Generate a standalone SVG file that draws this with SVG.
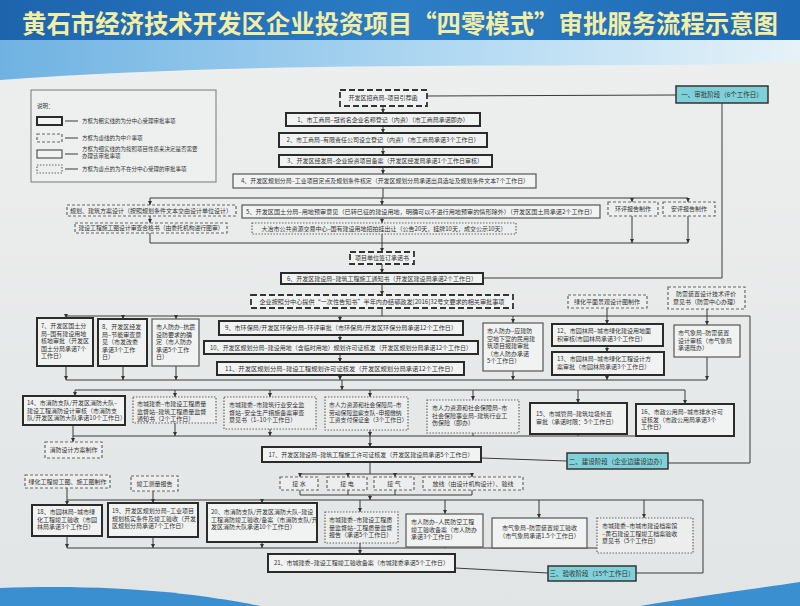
<svg xmlns="http://www.w3.org/2000/svg" width="800" height="606" viewBox="0 0 800 606">
<defs>
<linearGradient id="bg" x1="0" y1="0" x2="0" y2="1"><stop offset="0" stop-color="#eef0f0"/><stop offset="1" stop-color="#e2e5e5"/></linearGradient>
<linearGradient id="hd" x1="0" y1="0" x2="1" y2="0"><stop offset="0" stop-color="#1d64ad"/><stop offset="0.5" stop-color="#2b7cc4"/><stop offset="1" stop-color="#1f6ab4"/></linearGradient>
<linearGradient id="sw" x1="0" y1="0" x2="1" y2="0"><stop offset="0" stop-color="#6fb2e2"/><stop offset="0.6" stop-color="#b5dbf3"/><stop offset="1" stop-color="#e6f2f8"/></linearGradient>
<marker id="a" viewBox="0 0 6 6" refX="6" refY="3" markerWidth="4" markerHeight="4" orient="auto"><path d="M0,0L6,3L0,6z" fill="#333"/></marker>
<style>
.thick{fill:#f1f2f2;stroke:#2b2b2b;stroke-width:2}
.thin{fill:#f1f2f2;stroke:#555;stroke-width:1.2}
.dash{fill:#f1f2f2;stroke:#333;stroke-width:1.8;stroke-dasharray:6 3}
.mid{fill:#eceeee;stroke:#666;stroke-width:1.2;stroke-dasharray:3 2}
.dot{fill:#eceeee;stroke:#666;stroke-width:1.2;stroke-dasharray:1.5 1.5}
.stage{fill:#7fd0d8;stroke:#333;stroke-width:1.5}
text{font-family:"Noto Sans CJK SC","Noto Sans",sans-serif;font-size:6px;fill:#333}
.c{text-anchor:middle}
.l{fill:none;stroke:#3a3a3a;stroke-width:1}
.ar{fill:none;stroke:#3a3a3a;stroke-width:1;marker-end:url(#a)}
</style>
</defs>
<rect x="0" y="0" width="800" height="606" fill="url(#bg)"/>
<rect x="0" y="0" width="800" height="46" fill="url(#hd)"/>
<path d="M0,40 L800,40 L800,62 C600,70 300,58 0,80 Z" fill="url(#sw)"/>
<path d="M0,588 C120,584 200,594 260,606 L0,606 Z" fill="#3a8fd0"/>
<path d="M640,606 C700,596 760,588 800,582 L800,606 Z" fill="#3a8fd0"/>
<text x="400" y="33" text-anchor="middle" textLength="756" lengthAdjust="spacingAndGlyphs" style="font-size:25px;font-weight:bold;fill:#f3eea6">黄石市经济技术开发区企业投资项目“四零模式”审批服务流程示意图</text>

<g id="legend">
<rect x="31" y="90" width="185" height="92" fill="#eef0f0" stroke="#777" stroke-width="1"/>
<text x="37" y="108" style="font-size:5.5px">说明：</text>
<rect x="37" y="117" width="25" height="8" class="thick"/>
<line x1="65" y1="121" x2="78" y2="121" class="l"/>
<text x="82" y="123" style="font-size:5.5px">方框为粗实线的为分中心受理审批事项</text>
<rect x="37" y="134" width="25" height="8" class="mid"/>
<line x1="65" y1="138" x2="78" y2="138" class="l"/>
<text x="82" y="140" style="font-size:5.5px">方框为虚线的为中介事项</text>
<rect x="37" y="150" width="25" height="8" class="thin"/>
<line x1="65" y1="154" x2="78" y2="154" class="l"/>
<text x="82" y="151" style="font-size:5.5px">方框为细实线的为按照项目性质来决定是否需要</text>
<text x="82" y="158" style="font-size:5.5px">办理该审批事项</text>
<rect x="37" y="165" width="25" height="8" class="dot"/>
<line x1="65" y1="169" x2="78" y2="169" class="l"/>
<text x="82" y="171" style="font-size:5.5px">方框为虚点的为不在分中心受理的审批事项</text>
</g>

<g id="connectors">
<line x1="383" y1="106" x2="383" y2="113" class="ar"/>
<line x1="383" y1="126" x2="383" y2="133" class="ar"/>
<line x1="383" y1="147" x2="383" y2="155" class="ar"/>
<line x1="383" y1="167" x2="383" y2="174" class="ar"/>
<polyline points="427,96 676,95" class="l"/>
<polyline points="722,103 722,278 483,278" class="l"/>
<line x1="383" y1="188" x2="383" y2="198" class="l"/>
<line x1="150" y1="198" x2="688" y2="198" class="l"/>
<line x1="150" y1="198" x2="150" y2="205" class="ar"/>
<line x1="382" y1="198" x2="382" y2="205" class="ar"/>
<line x1="632" y1="198" x2="632" y2="202" class="ar"/>
<line x1="688" y1="198" x2="688" y2="202" class="ar"/>
<line x1="150" y1="216" x2="150" y2="223" class="ar"/>
<line x1="382" y1="218" x2="382" y2="223" class="ar"/>
<line x1="150" y1="233" x2="150" y2="243" class="l"/>
<line x1="382" y1="234" x2="382" y2="243" class="l"/>
<line x1="632" y1="216" x2="632" y2="243" class="ar"/>
<line x1="688" y1="216" x2="688" y2="243" class="ar"/>
<line x1="150" y1="243" x2="688" y2="243" class="l"/>
<line x1="382" y1="243" x2="382" y2="252" class="ar"/>
<line x1="382" y1="264" x2="382" y2="273" class="ar"/>
<line x1="382" y1="284" x2="382" y2="295" class="ar"/>
<line x1="382" y1="308" x2="382" y2="316" class="l"/>
<line x1="66" y1="316" x2="750" y2="316" class="l"/>
<line x1="66" y1="316" x2="66" y2="318" class="ar"/>
<line x1="123" y1="316" x2="123" y2="319" class="ar"/>
<line x1="176" y1="316" x2="176" y2="319" class="ar"/>
<line x1="340" y1="316" x2="340" y2="321" class="ar"/>
<line x1="513" y1="316" x2="513" y2="323" class="ar"/>
<line x1="607" y1="308" x2="607" y2="324" class="ar"/>
<line x1="707" y1="309" x2="707" y2="325" class="ar"/>
<line x1="340" y1="335" x2="340" y2="341" class="ar"/>
<line x1="340" y1="354" x2="340" y2="362" class="ar"/>
<line x1="607" y1="346" x2="607" y2="352" class="ar"/>
<polyline points="750,316 750,463 668,463" class="l"/>
<line x1="66" y1="366" x2="66" y2="380" class="ar"/>
<line x1="123" y1="366" x2="123" y2="380" class="ar"/>
<line x1="176" y1="366" x2="176" y2="380" class="ar"/>
<line x1="340" y1="375" x2="340" y2="380" class="ar"/>
<line x1="513" y1="371" x2="513" y2="380" class="ar"/>
<line x1="607" y1="375" x2="607" y2="380" class="ar"/>
<line x1="707" y1="357" x2="707" y2="380" class="ar"/>
<line x1="66" y1="380" x2="707" y2="380" class="l"/>
<line x1="342" y1="380" x2="342" y2="390" class="ar"/>
<line x1="75" y1="390" x2="685" y2="390" class="l"/>
<line x1="75" y1="390" x2="75" y2="396" class="ar"/>
<line x1="175" y1="390" x2="175" y2="397" class="ar"/>
<line x1="270" y1="390" x2="270" y2="397" class="ar"/>
<line x1="370" y1="390" x2="370" y2="397" class="ar"/>
<line x1="473" y1="390" x2="473" y2="400" class="ar"/>
<line x1="578" y1="390" x2="578" y2="403" class="ar"/>
<line x1="685" y1="390" x2="685" y2="404" class="ar"/>
<line x1="73" y1="425" x2="73" y2="442" class="ar"/>
<line x1="73" y1="436" x2="685" y2="436" class="l"/>
<line x1="175" y1="423" x2="175" y2="436" class="ar"/>
<line x1="270" y1="429" x2="270" y2="436" class="ar"/>
<line x1="370" y1="430" x2="370" y2="436" class="ar"/>
<line x1="473" y1="433" x2="473" y2="436" class="l"/>
<line x1="578" y1="434" x2="578" y2="436" class="l"/>
<line x1="685" y1="436" x2="685" y2="436" class="l"/>
<line x1="370" y1="436" x2="370" y2="447" class="ar"/>
<line x1="481" y1="458" x2="567" y2="461" class="l"/>
<line x1="370" y1="462" x2="370" y2="474" class="l"/>
<line x1="300" y1="474" x2="472" y2="474" class="l"/>
<line x1="300" y1="474" x2="300" y2="477" class="ar"/>
<line x1="348" y1="474" x2="348" y2="477" class="ar"/>
<line x1="395" y1="474" x2="395" y2="477" class="ar"/>
<line x1="472" y1="474" x2="472" y2="477" class="ar"/>
<line x1="300" y1="490" x2="300" y2="495" class="l"/>
<line x1="348" y1="490" x2="348" y2="495" class="l"/>
<line x1="395" y1="490" x2="395" y2="495" class="l"/>
<line x1="472" y1="490" x2="472" y2="495" class="l"/>
<line x1="300" y1="495" x2="472" y2="495" class="l"/>
<line x1="370" y1="495" x2="370" y2="500" class="ar"/>
<line x1="67" y1="500" x2="703" y2="500" class="l"/>
<line x1="67" y1="488" x2="67" y2="505" class="ar"/>
<line x1="153" y1="491" x2="153" y2="503" class="ar"/>
<line x1="262" y1="500" x2="262" y2="503" class="ar"/>
<line x1="360" y1="500" x2="360" y2="512" class="ar"/>
<line x1="445" y1="500" x2="445" y2="514" class="ar"/>
<line x1="539" y1="500" x2="539" y2="518" class="ar"/>
<line x1="644" y1="500" x2="644" y2="518" class="ar"/>
<line x1="67" y1="536" x2="67" y2="548" class="ar"/>
<line x1="153" y1="537" x2="153" y2="548" class="ar"/>
<line x1="262" y1="542" x2="262" y2="548" class="ar"/>
<line x1="360" y1="543" x2="360" y2="548" class="l"/>
<line x1="445" y1="547" x2="445" y2="548" class="l"/>
<line x1="539" y1="548" x2="539" y2="548" class="l"/>
<line x1="644" y1="553" x2="644" y2="548" class="l"/>
<line x1="67" y1="548" x2="644" y2="548" class="l"/>
<line x1="360" y1="548" x2="360" y2="554" class="ar"/>
<line x1="455" y1="568" x2="548" y2="573" class="l"/>
<polyline points="636,573 703,573 703,500" class="l"/>
</g>

<g id="n0"><rect x="340" y="90" width="87" height="16" class="dash"/><text x="383" y="100" class="c">开发区招商局–项目引荐函</text></g>
<g id="s1"><rect x="676" y="86" width="92" height="17" class="stage"/><text x="722" y="97" class="c" style="font-size:6.5px">一、审批阶段（6个工作日）</text></g>
<g id="n1"><rect x="286" y="113" width="194" height="13" class="thick"/><text x="383" y="121.5" class="c">1、市工商局–冠省名企业名称登记（内资）（市工商局承诺即办）</text></g>
<g id="n2"><rect x="279" y="133" width="208" height="14" class="thick"/><text x="383" y="142" class="c">2、市工商局–有限责任公司设立登记（内资）（市工商局承诺3个工作日）</text></g>
<g id="n3"><rect x="279" y="155" width="213" height="12" class="thick"/><text x="385" y="163" class="c">3、开发区经发局–企业投资项目备案（开发区经发局承诺1个工作日审核）</text></g>
<g id="n4"><rect x="233" y="174" width="303" height="14" class="thin"/><text x="385" y="183" class="c" textLength="288" lengthAdjust="spacingAndGlyphs">4、开发区规划分局–工业项目定点及规划条件核定（开发区规划分局承诺出具选址及规划条件文本7个工作日）</text></g>

<g id="n5a"><rect x="67" y="205" width="169" height="11" class="mid"/><text x="151" y="212.5" class="c">规划、建筑方案设计（按照规划条件文本交由设计单位设计）</text></g>
<g id="n5"><rect x="242" y="205" width="358" height="13" class="thin"/><text x="421" y="213.5" class="c" textLength="350" lengthAdjust="spacingAndGlyphs">5、开发区国土分局–用地预审意见（已转已征的建设用地，明确可以不进行用地预审的情形除外）（开发区国土局承诺2个工作日）</text></g>
<g id="n5b"><rect x="608" y="202" width="50" height="14" class="mid"/><text x="633" y="211" class="c">环评报告制作</text></g>
<g id="n5c"><rect x="663" y="202" width="52" height="14" class="mid"/><text x="689" y="211" class="c">安评报告制作</text></g>
<g id="n5d"><rect x="75" y="223" width="152" height="10" class="mid"/><text x="151" y="230" class="c" textLength="145" lengthAdjust="spacingAndGlyphs">建设工程施工图设计审查合格书（由委托机构进行图审）</text></g>
<g id="n5e"><rect x="252" y="223" width="264" height="11" class="dot"/><text x="384" y="230.5" class="c">大冶市公共资源交易中心–国有建设用地招拍挂出让（公告20天，挂牌10天，成交公示10天）</text></g>

<g id="n6a"><rect x="350" y="252" width="64" height="12" class="dash"/><text x="382" y="260" class="c">项目单位签订承诺书</text></g>
<g id="n6"><rect x="281" y="273" width="202" height="11" class="thick"/><text x="382" y="280.5" class="c" textLength="190" lengthAdjust="spacingAndGlyphs">6、开发区建设局–建筑工程施工通知书（开发区建设局承诺2个工作日）</text></g>
<g id="n6b"><rect x="251" y="295" width="262" height="13" class="dash"/><text x="382" y="303.5" class="c" textLength="245" lengthAdjust="spacingAndGlyphs">企业按照分中心提供“一次性告知书”半年内办结鄂政发[2016]32号文要求的相关审批事项</text></g>
<g id="n6c"><rect x="568" y="295" width="79" height="13" class="mid"/><text x="607" y="303.5" class="c">绿化平面景观设计图制作</text></g>
<g id="n6d"><rect x="668" y="287" width="77" height="22" class="mid"/><text x="706" y="296" class="c">防雷装置设计技术评价</text><text x="706" y="304" class="c">意见书（防雷中心办理）</text></g>

<g id="n7"><rect x="37" y="318" width="56" height="48" class="thick"/><text x="41" y="328"><tspan x="41">7、开发区国土分</tspan><tspan x="41" dy="7.5">局–国有建设用地</tspan><tspan x="41" dy="7.5">核地审批（开发区</tspan><tspan x="41" dy="7.5">国土分局承诺7个</tspan><tspan x="41" dy="7.5">工作日）</tspan></text></g>
<g id="n8"><rect x="98" y="319" width="49" height="47" class="thick"/><text x="102" y="329"><tspan x="102">8、开发区经发</tspan><tspan x="102" dy="7.5">局–节能审查意</tspan><tspan x="102" dy="7.5">见（市发改委</tspan><tspan x="102" dy="7.5">承诺3个工作</tspan><tspan x="102" dy="7.5">日）</tspan></text></g>
<g id="n8b"><rect x="152" y="319" width="47" height="47" class="thin"/><text x="156" y="329"><tspan x="156">市人防办–抗震</tspan><tspan x="156" dy="7.5">设防要求的确</tspan><tspan x="156" dy="7.5">定（市人防办</tspan><tspan x="156" dy="7.5">承诺5个工作</tspan><tspan x="156" dy="7.5">日）</tspan></text></g>
<g id="n9"><rect x="219" y="321" width="244" height="14" class="thick"/><text x="341" y="330" class="c" textLength="232" lengthAdjust="spacingAndGlyphs">9、市环保局/开发区环保分局–环评审批（市环保局/开发区环保分局承诺12个工作日）</text></g>
<g id="n10"><rect x="204" y="341" width="274" height="13" class="thick"/><text x="341" y="349.5" class="c" textLength="262" lengthAdjust="spacingAndGlyphs">10、开发区规划分局–建设用地（含临时用地）规划许可证核发（开发区规划分局承诺12个工作日）</text></g>
<g id="n11"><rect x="217" y="362" width="247" height="13" class="thick"/><text x="341" y="370.5" class="c" textLength="232" lengthAdjust="spacingAndGlyphs">11、开发区规划分局–建设工程规划许可证核发（开发区规划分局承诺12个工作日）</text></g>
<g id="n11b"><rect x="483" y="323" width="60" height="48" class="thin"/><text x="487" y="333"><tspan x="487">市人防办–应建防</tspan><tspan x="487" dy="7.5">空地下室的民用建</tspan><tspan x="487" dy="7.5">筑项目报建审批</tspan><tspan x="487" dy="7.5">（市人防办承诺</tspan><tspan x="487" dy="7.5">5个工作日）</tspan></text></g>
<g id="n12"><rect x="552" y="324" width="111" height="22" class="thick"/><text x="557" y="333"><tspan x="557">12、市园林局–城市绿化建设用地面</tspan><tspan x="557" dy="8">积审核(市园林局承诺3个工作日）</tspan></text></g>
<g id="n13"><rect x="552" y="352" width="112" height="23" class="thick"/><text x="557" y="361"><tspan x="557">13、市园林局–城市绿化工程设计方</tspan><tspan x="557" dy="8">案审批（市园林局承诺3个工作日）</tspan></text></g>
<g id="n13b"><rect x="674" y="325" width="66" height="32" class="thin"/><text x="678" y="335"><tspan x="678">市气象局–防雷装置</tspan><tspan x="678" dy="7.5">设计审核（市气象局</tspan><tspan x="678" dy="7.5">承诺既办）</tspan></text></g>

<g id="n14"><rect x="23" y="396" width="102" height="29" class="thick"/><text x="27" y="405"><tspan x="27">14、市消防支队/开发区消防大队–</tspan><tspan x="27" dy="7.5">建设工程消防设计审核（市消防支</tspan><tspan x="27" dy="7.5">队/开发区消防大队承诺10个工作日）</tspan></text></g>
<g id="n14b"><rect x="133" y="397" width="83" height="26" class="dot"/><text x="137" y="406"><tspan x="137">市城建委–市建设工程质量</tspan><tspan x="137" dy="7.5">监督站–建筑工程质量监督</tspan><tspan x="137" dy="7.5">通知书（2个工作日）</tspan></text></g>
<g id="n14c"><rect x="224" y="397" width="92" height="32" class="dot"/><text x="229" y="407"><tspan x="229">市城建委–市建筑行业安全监</tspan><tspan x="229" dy="7.5">督站–安全生产措施备案审查</tspan><tspan x="229" dy="7.5">意见书（1–10个工作日）</tspan></text></g>
<g id="n14d"><rect x="325" y="397" width="83" height="33" class="dot"/><text x="329" y="407" style="font-size:5.8px"><tspan x="329">市人力资源和社会保障局–市</tspan><tspan x="329" dy="7.5">劳动保障监察支队–申报缴纳</tspan><tspan x="329" dy="7.5">工资支付保证金（3个工作日）</tspan></text></g>
<g id="n14e"><rect x="427" y="400" width="92" height="33" class="dot"/><text x="432" y="410"><tspan x="432">市人力资源和社会保障局–市</tspan><tspan x="432" dy="7.5">社会保险事业局–建筑行业工</tspan><tspan x="432" dy="7.5">伤保险（即办）</tspan></text></g>
<g id="n15"><rect x="530" y="403" width="97" height="31" class="thick"/><text x="536" y="416"><tspan x="536">15、市城管局–建筑垃圾处置</tspan><tspan x="536" dy="8">审批（承诺时限：5个工作日）</tspan></text></g>
<g id="n16"><rect x="636" y="404" width="98" height="32" class="thick"/><text x="641" y="414"><tspan x="641">16、市政公用局–城市排水许可</tspan><tspan x="641" dy="7.5">证核发（市政公用局承诺3个</tspan><tspan x="641" dy="7.5">工作日）</tspan></text></g>
<g id="n16b"><rect x="45" y="442" width="57" height="16" class="mid"/><text x="73.5" y="452" class="c">消防设计方案制作</text></g>
<g id="n17"><rect x="262" y="447" width="219" height="15" class="thick"/><text x="371" y="456.5" class="c" textLength="205" lengthAdjust="spacingAndGlyphs">17、开发区建设局–建筑工程施工许可证核发（开发区建设局承诺5个工作日）</text></g>
<g id="s2"><rect x="567" y="453" width="101" height="16" class="stage"/><text x="617.5" y="463.5" class="c" style="font-size:6.5px">二、建设阶段（企业边建设边办）</text></g>

<g id="n17a"><rect x="25" y="475" width="85" height="13" class="mid"/><text x="67.5" y="483.5" class="c">绿化工程竣工图、施工图制作</text></g>
<g id="n17b"><rect x="131" y="476" width="47" height="15" class="mid"/><text x="154.5" y="485.5" class="c">竣工测量报告</text></g>
<g id="n17c"><rect x="280" y="477" width="38" height="13" class="mid"/><text x="299" y="485.5" class="c">接  水</text></g>
<g id="n17d"><rect x="327" y="477" width="40" height="13" class="mid"/><text x="347" y="485.5" class="c">接  电</text></g>
<g id="n17e"><rect x="374" y="477" width="40" height="13" class="mid"/><text x="394" y="485.5" class="c">接  气</text></g>
<g id="n17f"><rect x="423" y="477" width="100" height="13" class="mid"/><text x="473" y="485.5" class="c">放线（由设计机构设计）、验线</text></g>

<g id="n18"><rect x="32" y="505" width="70" height="31" class="thick"/><text x="37" y="514"><tspan x="37">18、市园林局–城市绿</tspan><tspan x="37" dy="7.5">化工程竣工验收（市园</tspan><tspan x="37" dy="7.5">林局承诺3个工作日）</tspan></text></g>
<g id="n19"><rect x="108" y="503" width="90" height="34" class="thick"/><text x="112" y="513"><tspan x="112">19、开发区规划分局–工业项目</tspan><tspan x="112" dy="7.5">规划核实条件及竣工验收（开发</tspan><tspan x="112" dy="7.5">区规划分局承诺7个工作日）</tspan></text></g>
<g id="n20"><rect x="207" y="503" width="110" height="39" class="thick"/><text x="211" y="514"><tspan x="211">20、市消防支队/开发区消防大队–建设</tspan><tspan x="211" dy="7.5">工程消防竣工验收/备案（市消防支队/开</tspan><tspan x="211" dy="7.5">发区消防大队承诺10个工作日）</tspan></text></g>
<g id="n20b"><rect x="325" y="512" width="73" height="31" class="dot"/><text x="329" y="522"><tspan x="329">市城建委–市建设工程质</tspan><tspan x="329" dy="7.5">量监督站–工程质量监督</tspan><tspan x="329" dy="7.5">报告（承诺5个工作日）</tspan></text></g>
<g id="n20c"><rect x="406" y="514" width="77" height="33" class="thin"/><text x="411" y="524"><tspan x="411">市人防办–人民防空工程</tspan><tspan x="411" dy="7.5">竣工验收备案（市人防办</tspan><tspan x="411" dy="7.5">承诺3个工作日）</tspan></text></g>
<g id="n20d"><rect x="492" y="518" width="95" height="30" class="thin"/><text x="539.5" y="530" class="c"><tspan x="539.5">市气象局–防雷装置竣工验收</tspan><tspan x="539.5" dy="8">（市气象局承诺1.5个工作日）</tspan></text></g>
<g id="n20e"><rect x="597" y="518" width="96" height="35" class="dot"/><text x="602" y="528"><tspan x="602">市城建委–市城市建设档案馆</tspan><tspan x="602" dy="7.5">–黄石建设工程竣工档案验收</tspan><tspan x="602" dy="7.5">意见书（5个工作日）</tspan></text></g>
<g id="n21"><rect x="268" y="554" width="187" height="18" class="thick"/><text x="361.5" y="565" class="c">21、市城建委–建设工程竣工验收备案（市城建委承诺5个工作日）</text></g>
<g id="s3"><rect x="548" y="566" width="88" height="15" class="stage"/><text x="592" y="576" class="c" style="font-size:6.5px">三、验收阶段（15个工作日）</text></g>
</svg>
